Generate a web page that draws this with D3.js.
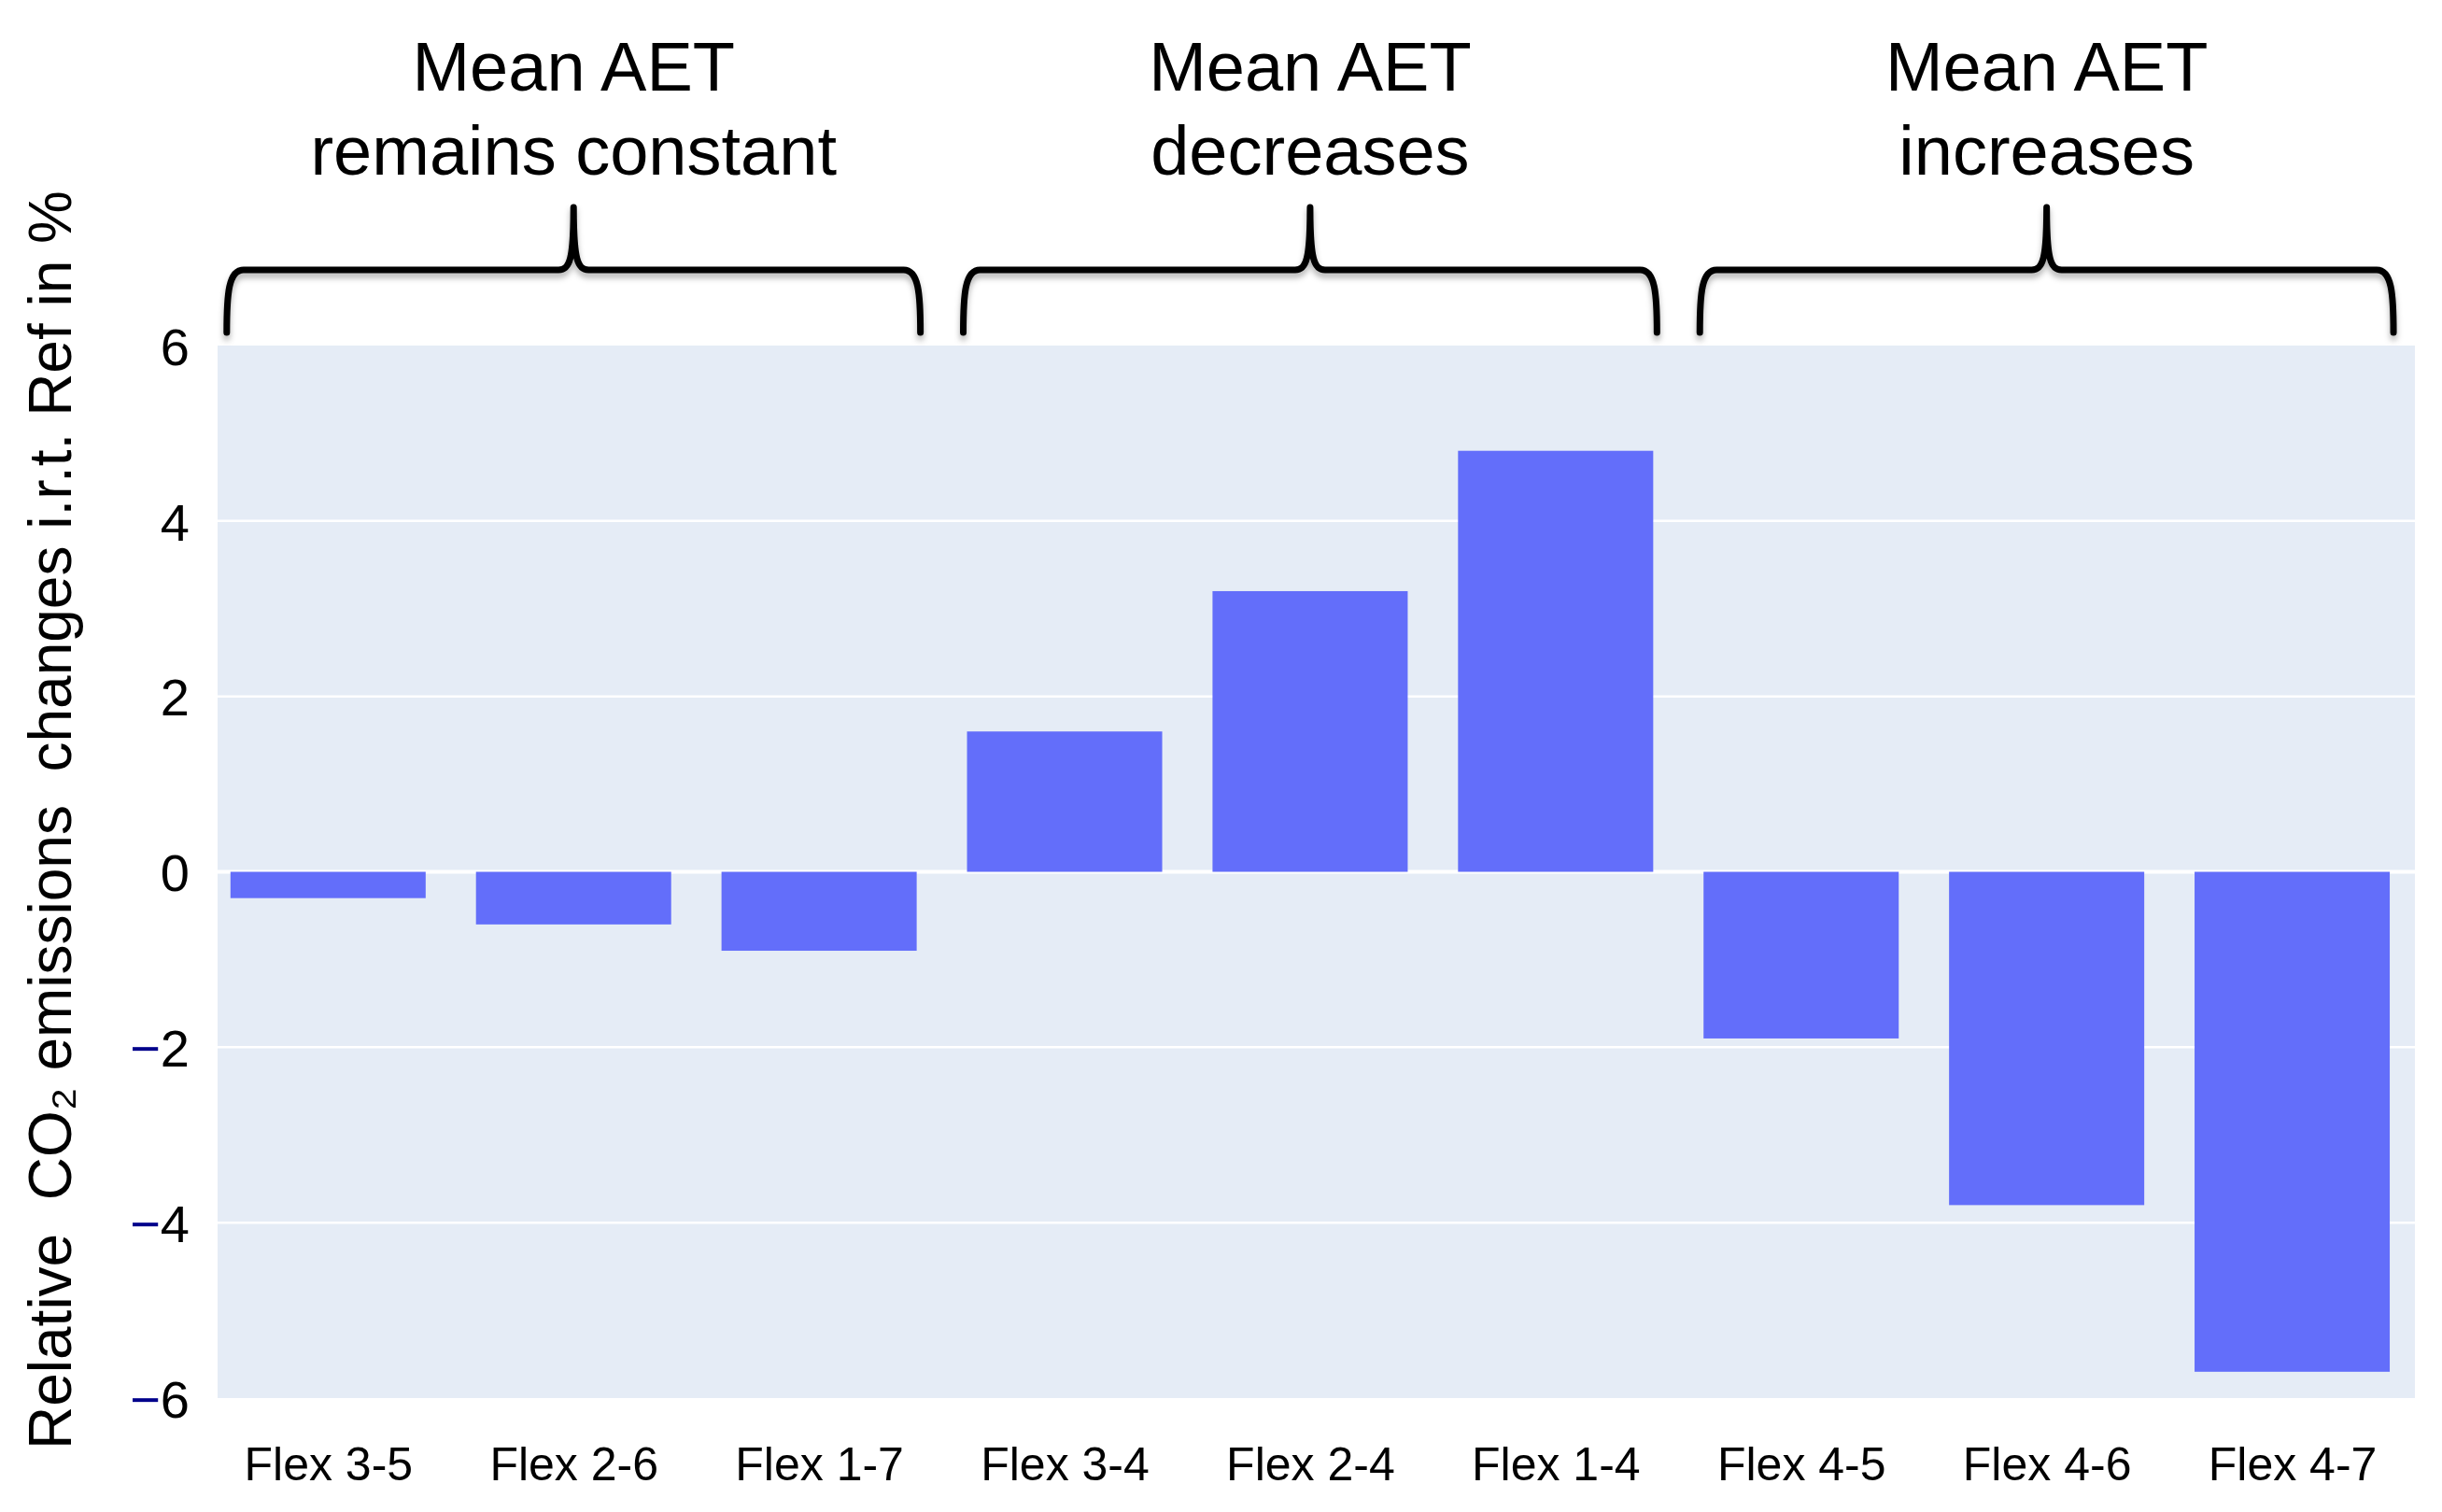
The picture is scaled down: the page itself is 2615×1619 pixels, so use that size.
<!DOCTYPE html>
<html>
<head>
<meta charset="utf-8">
<script src="https://cdn.jsdelivr.net/npm/d3@7"></script>
<style>
  html, body { margin: 0; padding: 0; background: #ffffff; }
  svg { display: block; }
  text { font-family: "Liberation Sans", Arial, Helvetica, sans-serif; }
</style>
</head>
<body>
<svg id="chart" width="2615" height="1619"></svg>
<script>
// ---- data ----
const categories = ["Flex 3-5", "Flex 2-6", "Flex 1-7", "Flex 3-4", "Flex 2-4", "Flex 1-4", "Flex 4-5", "Flex 4-6", "Flex 4-7"];
const values = [-0.3, -0.6, -0.9, 1.6, 3.2, 4.8, -1.9, -3.8, -5.7];
const yTicks = [-6, -4, -2, 0, 2, 4, 6];
const groupLabels = [["Mean AET", "remains constant"], ["Mean AET", "decreases"], ["Mean AET", "increases"]];
const groupStart = [0, 3, 6];
const groupEnd = [2, 5, 8];
const yTitle = "Relative  CO₂ emissions  changes i.r.t. Ref in %";

// ---- layout ----
const plot = { left: 233, right: 2586, top: 370, bottom: 1497 };
const svg = d3.select("#chart");

const x = d3.scaleLinear().domain([-0.45, 8.5]).range([plot.left, plot.right]);
const barW = x(0.795) - x(0);
const y = d3.scaleLinear().domain([-6, 6]).range([plot.bottom, plot.top]);

// shadow filter for braces
const defs = svg.append("defs");
const f = defs.append("filter").attr("id", "shadow").attr("x", "-5%").attr("y", "-20%").attr("width", "110%").attr("height", "160%");
f.append("feDropShadow").attr("dx", 0).attr("dy", 5).attr("stdDeviation", 3)
  .attr("flood-color", "#000").attr("flood-opacity", 0.3);

// plot background
svg.append("rect")
  .attr("x", plot.left).attr("y", plot.top)
  .attr("width", plot.right - plot.left).attr("height", plot.bottom - plot.top)
  .attr("fill", "#E5ECF6");

// gridlines
svg.append("g").selectAll("line").data(yTicks.filter(d => d !== -6 && d !== 6)).join("line")
  .attr("x1", plot.left).attr("x2", plot.right)
  .attr("y1", d => y(d)).attr("y2", d => y(d))
  .attr("stroke", "#ffffff").attr("stroke-width", d => d === 0 ? 4 : 2.5);

// bars
svg.append("g").selectAll("rect").data(values).join("rect")
  .attr("x", (d, i) => x(i) - barW / 2)
  .attr("width", barW)
  .attr("y", d => y(Math.max(0, d)))
  .attr("height", d => Math.abs(y(d) - y(0)))
  .attr("fill", "#636EFA");

// y axis
const yAxis = d3.axisLeft(y).tickValues(yTicks).tickSize(0).tickPadding(0);
const gy = svg.append("g").attr("transform", `translate(${203},0)`).call(yAxis);
gy.select(".domain").remove();
gy.selectAll(".tick text").each(function(d) {
  const t = d3.select(this);
  t.text(null)
    .attr("font-size", 56)
    .attr("font-family", "Liberation Sans, Arial, sans-serif")
    .attr("fill", "#000")
    .attr("text-anchor", "end")
    .attr("dy", "0.36em")
    .attr("x", 0);
  if (d < 0) t.append("tspan").attr("fill", "#00008b").text("\u2212");
  t.append("tspan").text(Math.abs(d));
});

// x axis labels
const xAxis = d3.axisBottom(x).tickValues(d3.range(categories.length)).tickFormat(i => categories[i]).tickSize(0).tickPadding(0);
const gx = svg.append("g").attr("transform", `translate(0,${1585})`).call(xAxis);
gx.select(".domain").remove();
gx.selectAll(".tick text")
  .attr("font-size", 50)
  .attr("font-family", "Liberation Sans, Arial, sans-serif")
  .attr("fill", "#000")
  .attr("dy", 0).attr("y", 0);

// y title
svg.append("text")
  .attr("transform", `translate(76,878) rotate(-90)`)
  .attr("text-anchor", "middle")
  .attr("font-size", 64)
  .attr("fill", "#000")
  .style("white-space", "pre")
  .attr("xml:space", "preserve")
  .text(yTitle);

// braces
const yH = 289, yBot = 356, yPeak = 222;
function bracePath(x0, x1) {
  const cx = (x0 + x1) / 2;
  const p = d3.path();
  p.moveTo(x0, yBot);
  p.bezierCurveTo(x0, yH + 25, x0 + 2, yH, x0 + 18, yH);
  p.lineTo(cx - 16, yH);
  p.bezierCurveTo(cx - 4, yH, cx, yH - 12, cx, yPeak);
  p.bezierCurveTo(cx, yH - 12, cx + 4, yH, cx + 16, yH);
  p.lineTo(x1 - 18, yH);
  p.bezierCurveTo(x1 - 2, yH, x1, yH + 25, x1, yBot);
  return p.toString();
}
const braces = svg.append("g");
groupStart.forEach((s, gi) => {
  const x0 = x(s) - barW / 2 - 4;
  const x1 = x(groupEnd[gi]) + barW / 2 + 4;
  braces.append("path")
    .attr("d", bracePath(x0, x1))
    .attr("fill", "none")
    .attr("stroke", "#000")
    .attr("stroke-width", 7)
    .attr("stroke-linecap", "round")
    .attr("stroke-linejoin", "round")
    .attr("filter", "url(#shadow)");
  const cx = (x0 + x1) / 2;
  const t = svg.append("text")
    .attr("text-anchor", "middle")
    .attr("font-size", 74)
    .attr("fill", "#000");
  t.append("tspan").attr("x", cx).attr("y", 97).text(groupLabels[gi][0]);
  t.append("tspan").attr("x", cx).attr("y", 187).text(groupLabels[gi][1]);
});
</script>
</body>
</html>
